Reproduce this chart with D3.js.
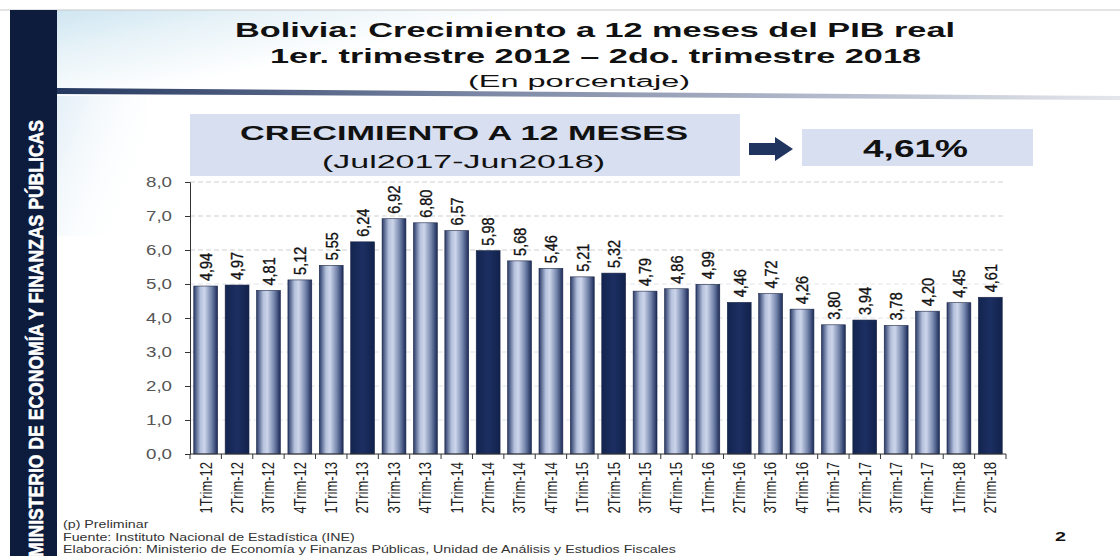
<!DOCTYPE html>
<html>
<head>
<meta charset="utf-8">
<script src="https://cdn.jsdelivr.net/npm/d3@7"></script>
<style>
  html, body { margin: 0; padding: 0; background: #fff; }
  svg { display: block; }
</style>
</head>
<body>
<svg id="chart" width="1120" height="556"></svg>
<script>
const categories = ["1Trim-12","2Trim-12","3Trim-12","4Trim-12","1Trim-13","2Trim-13","3Trim-13","4Trim-13",
  "1Trim-14","2Trim-14","3Trim-14","4Trim-14","1Trim-15","2Trim-15","3Trim-15","4Trim-15",
  "1Trim-16","2Trim-16","3Trim-16","4Trim-16","1Trim-17","2Trim-17","3Trim-17","4Trim-17",
  "1Trim-18","2Trim-18"];
const values = [4.94,4.97,4.81,5.12,5.55,6.24,6.92,6.80,6.57,5.98,5.68,5.46,5.21,5.32,4.79,4.86,
  4.99,4.46,4.72,4.26,3.80,3.94,3.78,4.20,4.45,4.61];
const yTicks = [0,1,2,3,4,5,6,7,8];
const titleLines = ["Bolivia: Crecimiento a 12 meses del PIB real", "1er. trimestre 2012 – 2do. trimestre 2018"];
const subtitle = "(En porcentaje)";
const bannerLines = ["CRECIMIENTO A 12 MESES", "(Jul2017-Jun2018)"];
const headline = "4,61%";
const sidebarText = "MINISTERIO DE ECONOMÍA Y FINANZAS PÚBLICAS";
const footnotes = ["(p) Preliminar", "Fuente: Instituto Nacional de Estadística (INE)",
  "Elaboración: Ministerio de Economía y Finanzas Públicas, Unidad de Análisis y Estudios Fiscales"];
const pageNumber = "2";

const svg = d3.select("#chart");
const W = 1120, H = 556;
const sans = "'Liberation Sans',Arial,sans-serif";
const fmt = v => d3.format(".2f")(v).replace(".", ",");

function stext(x, y, txt, size, width, opts = {}) {
  const t = svg.append("text").attr("x", x).attr("y", y)
    .attr("font-family", sans).attr("font-size", size)
    .attr("font-weight", opts.bold ? "bold" : "normal")
    .attr("fill", opts.fill || "#111")
    .attr("text-anchor", opts.anchor || "start")
    .text(txt);
  if (width) t.attr("textLength", width).attr("lengthAdjust", "spacingAndGlyphs");
  return t;
}

const defs = svg.append("defs");
const hg = defs.append("linearGradient").attr("id","hdr").attr("x1","0").attr("x2","1").attr("y1","0").attr("y2","0.4");
hg.append("stop").attr("offset","0%").attr("stop-color","#cfe6f2");
hg.append("stop").attr("offset","18%").attr("stop-color","#e8f3f8");
hg.append("stop").attr("offset","40%").attr("stop-color","#ffffff");
const lg = defs.append("linearGradient").attr("id","leftfade").attr("x1","0").attr("x2","1").attr("y1","0").attr("y2","0.6");
lg.append("stop").attr("offset","0%").attr("stop-color","#e3eff7");
lg.append("stop").attr("offset","100%").attr("stop-color","#ffffff").attr("stop-opacity",0);
const rg = defs.append("linearGradient").attr("id","rule");
rg.append("stop").attr("offset","0%").attr("stop-color","#25385f");
rg.append("stop").attr("offset","40%").attr("stop-color","#7b87a4");
rg.append("stop").attr("offset","100%").attr("stop-color","#e4e6ec");
const bg = defs.append("linearGradient").attr("id","barLight");
bg.append("stop").attr("offset","0%").attr("stop-color","#293a68");
bg.append("stop").attr("offset","28%").attr("stop-color","#b5c1dc");
bg.append("stop").attr("offset","45%").attr("stop-color","#ccd5ea");
bg.append("stop").attr("offset","75%").attr("stop-color","#7182a9");
bg.append("stop").attr("offset","100%").attr("stop-color","#1b2a58");
const dg = defs.append("linearGradient").attr("id","barDark");
dg.append("stop").attr("offset","0%").attr("stop-color","#13244f");
dg.append("stop").attr("offset","50%").attr("stop-color","#1c2f62");
dg.append("stop").attr("offset","100%").attr("stop-color","#12224c");

// header background
svg.append("rect").attr("x",57).attr("y",10).attr("width",W-57).attr("height",86).attr("fill","url(#hdr)");
svg.append("rect").attr("x",57).attr("y",96).attr("width",90).attr("height",140).attr("fill","url(#leftfade)");
svg.append("line").attr("x1",0).attr("x2",W).attr("y1",10).attr("y2",10).attr("stroke","#c8c8c8").attr("stroke-width",1);
svg.append("path").attr("d","M57,88 L1120,96 L1120,100 L57,94 Z").attr("fill","url(#rule)");

// sidebar
svg.append("rect").attr("x",10).attr("y",10).attr("width",47).attr("height",H-10).attr("fill","#0d1c3c");
svg.append("text").attr("transform","translate(43,557) rotate(-90)")
  .attr("font-family",sans).attr("font-weight","bold").attr("font-size",21)
  .attr("fill","#fff").attr("stroke","#fff").attr("stroke-width",0.6)
  .attr("textLength",437).attr("lengthAdjust","spacingAndGlyphs").text(sidebarText);

// titles
stext(235, 37, titleLines[0], 21, 720, {bold:true});
stext(270, 63, titleLines[1], 21, 651, {bold:true});
stext(468, 87, subtitle, 16, 222);

// banner
svg.append("rect").attr("x",190).attr("y",114).attr("width",550).attr("height",62).attr("fill","#d7dff0");
stext(240, 140, bannerLines[0], 21, 448, {bold:true});
stext(322, 168, bannerLines[1], 19, 283);
svg.append("path").attr("d","M749,143 L775,143 L775,137 L793,149 L775,161 L775,155 L749,155 Z").attr("fill","#1f3560");
svg.append("rect").attr("x",802).attr("y",129).attr("width",231).attr("height",37).attr("fill","#d7dff0");
stext(863, 157, headline, 24, 105, {bold:true});

// chart
const x = d3.scaleBand().domain(categories).range([190,1006]).paddingInner(0.24).paddingOuter(0.12);
const y = d3.scaleLinear().domain([0,8]).range([454,182]);

const g = svg.append("g");
g.selectAll("line.grid").data(yTicks.filter(t=>t>0)).enter().append("line")
  .attr("x1",190).attr("x2",1006).attr("y1",d=>y(d)).attr("y2",d=>y(d))
  .attr("stroke",d=>d>=6?"#cfcfcf":"#e0e4ec").attr("stroke-dasharray","5,3").attr("stroke-width",1);

g.selectAll("rect.bar").data(values).enter().append("rect")
  .attr("x",(d,i)=>x(categories[i])).attr("y",d=>y(d))
  .attr("width",x.bandwidth()).attr("height",d=>y(0)-y(d))
  .attr("fill",(d,i)=>categories[i].startsWith("2Trim")?"url(#barDark)":"url(#barLight)")
  .attr("stroke","#1a2545").attr("stroke-width",0.6);

g.selectAll("text.val").data(values).enter().append("text")
  .attr("transform",(d,i)=>`translate(${x(categories[i])+x.bandwidth()/2},${y(d)-5}) scale(1.2,1) rotate(-90)`)
  .attr("dy","0.36em")
  .attr("font-family",sans).attr("font-size",14.5).attr("fill","#111").attr("stroke","#111").attr("stroke-width",0.3)
  .text(d=>fmt(d));

// y axis
const yAxis = d3.axisLeft(y).tickValues(yTicks).tickSize(5).tickPadding(6)
  .tickFormat(d=>d3.format(".1f")(d).replace(".",","));
const ya = svg.append("g").attr("transform","translate(190,0)").call(yAxis);
ya.select(".domain").attr("stroke","#333");
ya.selectAll(".tick line").attr("stroke","#333");
ya.selectAll(".tick text").attr("font-family",sans).attr("font-size",14).attr("fill","#555")
  .attr("x",-18).attr("textLength",26).attr("lengthAdjust","spacingAndGlyphs");

// x axis
const xAxis = d3.axisBottom(x).tickSize(0).tickPadding(0);
const xa = svg.append("g").attr("transform","translate(0,454)").call(xAxis);
xa.select(".domain").attr("stroke","#333").attr("d","M190,0H1006");
xa.selectAll(".tick text").attr("font-family",sans).attr("font-size",13).attr("fill","#222")
  .attr("text-anchor","end").attr("dy","0.36em").attr("transform","translate(0,8) scale(1.25,1) rotate(-90)").attr("y",0).attr("x",0);
const bounds = categories.map(c=>x(c)-(x.step()-x.bandwidth())/2).concat([1006]);
xa.selectAll("line.sep").data(bounds).enter().append("line")
  .attr("x1",d=>d).attr("x2",d=>d).attr("y1",0).attr("y2",5).attr("stroke","#333");

// footer: same horizontal stretch for all lines, set by the measured width of the "Fuente" line
const footEls = footnotes.map((t,i)=>stext(0, 0, t, 10.5, null, {fill:"#333"}));
const natural = footEls.map(e=>e.node().getComputedTextLength());
const k = 292 / natural[1];
footEls.forEach((e,i)=>{
  e.attr("x",null).attr("y",null).attr("transform",`translate(63,${528+i*12.5}) scale(${k},1)`);
});
stext(1055, 541, pageNumber, 13, 11, {bold:true});
</script>
</body>
</html>
